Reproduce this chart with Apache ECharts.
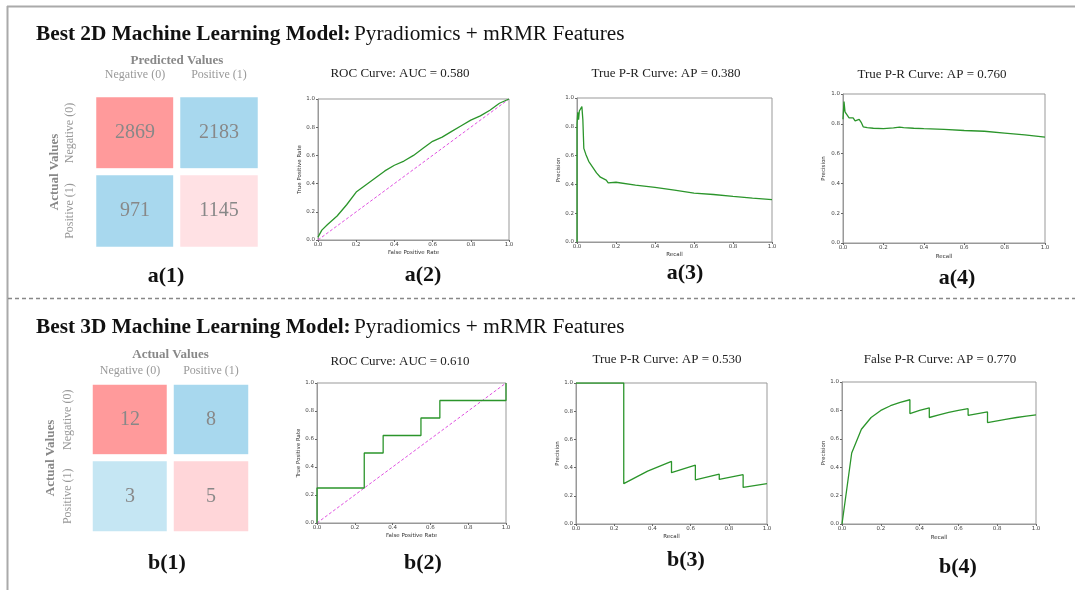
<!doctype html>
<html>
<head>
<meta charset="utf-8">
<title>Best Machine Learning Models</title>
<script src="https://cdn.jsdelivr.net/npm/echarts@6/dist/echarts.min.js"></script>
<style>
  html, body { margin: 0; padding: 0; background: #fff; }
  #main { width: 1075px; height: 590px; }
</style>
</head>
<body>
<div id="main"></div>
<script>
// ---- data ----
var cmLabels = ['Negative (0)', 'Positive (1)'];
var cmA = [[2869, 2183], [971, 1145]];   // rows = actual, cols = predicted
var cmB = [[12, 8], [3, 5]];
var cmColorsA = [['#ff9a9b', '#a8d8ee'], ['#a8d8ee', '#ffe1e4']];
var cmColorsB = [['#ff9a9b', '#a8d8ee'], ['#c5e6f3', '#ffd6d9']];

// a(2) ROC
var rocA_fpr = [0, 0.02, 0.05, 0.1, 0.15, 0.2, 0.25, 0.3, 0.35, 0.4, 0.45, 0.5, 0.55, 0.6, 0.65, 0.7, 0.75, 0.8, 0.85, 0.9, 0.95, 1.0];
var rocA_tpr = [0.02, 0.07, 0.11, 0.17, 0.25, 0.34, 0.39, 0.44, 0.49, 0.53, 0.56, 0.6, 0.65, 0.7, 0.73, 0.77, 0.81, 0.85, 0.88, 0.92, 0.97, 1.0];
// a(3) true P-R
var prA_rec = [0, 0, 0.004, 0.008, 0.012, 0.02, 0.025, 0.03, 0.035, 0.045, 0.06, 0.08, 0.1, 0.12, 0.15, 0.16, 0.2, 0.3, 0.4, 0.5, 0.6, 0.7, 0.8, 0.9, 1.0];
var prA_pre = [0, 0.82, 0.9, 0.85, 0.91, 0.92, 0.94, 0.85, 0.65, 0.61, 0.56, 0.52, 0.48, 0.45, 0.43, 0.41, 0.415, 0.395, 0.38, 0.36, 0.34, 0.33, 0.317, 0.305, 0.294];
// a(4) P-R
var prA2_rec = [0, 0.005, 0.01, 0.02, 0.03, 0.05, 0.06, 0.08, 0.09, 0.1, 0.12, 0.15, 0.2, 0.25, 0.28, 0.3, 0.35, 0.4, 0.5, 0.6, 0.7, 0.8, 0.9, 1.0];
var prA2_pre = [0.83, 0.95, 0.88, 0.86, 0.84, 0.84, 0.82, 0.83, 0.81, 0.78, 0.775, 0.77, 0.768, 0.772, 0.778, 0.775, 0.77, 0.767, 0.762, 0.755, 0.75, 0.738, 0.725, 0.71];
// b(2) ROC
var rocB_fpr = [0, 0, 0.25, 0.25, 0.35, 0.35, 0.55, 0.55, 0.65, 0.65, 1.0, 1.0];
var rocB_tpr = [0, 0.25, 0.25, 0.5, 0.5, 0.625, 0.625, 0.75, 0.75, 0.875, 0.875, 1.0];
// b(3) true P-R
var prB_rec = [0, 0.125, 0.25, 0.25, 0.375, 0.5, 0.5, 0.625, 0.625, 0.75, 0.75, 0.875, 0.875, 1.0];
var prB_pre = [1.0, 1.0, 1.0, 0.286, 0.375, 0.444, 0.364, 0.417, 0.3125, 0.353, 0.316, 0.35, 0.259, 0.286];
// b(4) false P-R
var prB2_rec = [0, 0.05, 0.1, 0.15, 0.2, 0.25, 0.3, 0.35, 0.35, 0.4, 0.45, 0.45, 0.5, 0.55, 0.6, 0.65, 0.65, 0.7, 0.75, 0.75, 0.8, 0.85, 0.9, 0.95, 1.0];
var prB2_pre = [0, 0.5, 0.667, 0.75, 0.8, 0.833, 0.857, 0.875, 0.778, 0.8, 0.818, 0.75, 0.769, 0.786, 0.8, 0.8125, 0.765, 0.778, 0.789, 0.714, 0.727, 0.739, 0.75, 0.76, 0.769];
var chance = [0, 1];

var serif = 'Liberation Serif';
var sans = 'DejaVu Sans';
var green = '#2b952b';

function zip(a, b) { return a.map(function (v, i) { return [v, b[i]]; }); }
function cells(m, colors) {
  var out = [];
  for (var r = 0; r < 2; r++) for (var c = 0; c < 2; c++)
    out.push({ value: [c, r, m[r][c]], itemStyle: { color: colors[r][c] } });
  return out;
}

// grids: 0 a1, 1 a2, 2 a3, 3 a4, 4 b1, 5 b2, 6 b3, 7 b4
var grids = [
  { left: 93, top: 94, width: 168, height: 156 },
  { left: 318, top: 99, width: 191, height: 141 },
  { left: 577, top: 98, width: 195, height: 144 },
  { left: 843, top: 94, width: 202, height: 149 },
  { left: 89.5, top: 381.5, width: 162, height: 153 },
  { left: 317, top: 383, width: 189, height: 140 },
  { left: 576, top: 383, width: 191, height: 141 },
  { left: 842, top: 382, width: 194, height: 142 }
];
grids.forEach(function (g, i) {
  g.containLabel = false;
  if (i !== 0 && i !== 4) { g.show = true; g.borderColor = '#999'; g.borderWidth = 1; }
});

function cmX(gi, name, gap, margin) {
  return {
    gridIndex: gi, type: 'category', position: 'top', data: cmLabels,
    axisLine: { show: false }, axisTick: { show: false }, splitLine: { show: false },
    axisLabel: { color: '#999', fontFamily: serif, fontSize: 12, margin: margin, interval: 0 },
    name: name, nameLocation: 'middle', nameGap: gap,
    nameTextStyle: { color: '#888', fontFamily: serif, fontSize: 13, fontWeight: 'bold' }
  };
}
function cmY(gi, margin, gap) {
  return {
    gridIndex: gi, type: 'category', inverse: true, data: cmLabels,
    axisLine: { show: false }, axisTick: { show: false }, splitLine: { show: false },
    axisLabel: { color: '#999', fontFamily: serif, fontSize: 12, rotate: 90, margin: margin,
      interval: 0, hideOverlap: false },
    name: 'Actual Values', nameLocation: 'middle', nameGap: gap, nameRotate: 90,
    nameTextStyle: { color: '#888', fontFamily: serif, fontSize: 13, fontWeight: 'bold' }
  };
}
function valAxis(gi, name, gap, isX) {
  return {
    gridIndex: gi, type: 'value', min: 0, max: 1, interval: 0.2,
    axisLine: { show: true, lineStyle: { color: '#999', width: 1 } },
    axisTick: { show: true, length: 2, lineStyle: { color: '#666' } },
    splitLine: { show: false },
    axisLabel: { color: '#444', fontFamily: sans, fontSize: 5.5, margin: isX ? 2 : 3,
      formatter: function (v) { return v.toFixed(1); } },
    name: name, nameLocation: 'middle', nameGap: gap,
    nameTextStyle: { color: '#333', fontFamily: sans, fontSize: 5.5 }
  };
}

var xAxes = [
  cmX(0, 'Predicted Values', 27, 13),
  valAxis(1, 'False Positive Rate', 10, true),
  valAxis(2, 'Recall', 10, true),
  valAxis(3, 'Recall', 11, true),
  cmX(4, 'Actual Values', 20, 5),
  valAxis(5, 'False Positive Rate', 10, true),
  valAxis(6, 'Recall', 10, true),
  valAxis(7, 'Recall', 11, true)
];
var yAxes = [
  cmY(0, 17, 32),
  valAxis(1, 'True Positive Rate', 14, false),
  valAxis(2, 'Precision', 14, false),
  valAxis(3, 'Precision', 16, false),
  cmY(4, 16, 32),
  valAxis(5, 'True Positive Rate', 13, false),
  valAxis(6, 'Precision', 13, false),
  valAxis(7, 'Precision', 14, false)
];

function heat(gi, m, colors) {
  return {
    type: 'heatmap', xAxisIndex: gi, yAxisIndex: gi, data: cells(m, colors),
    itemStyle: { borderColor: '#fff', borderWidth: 7 },
    label: { show: true, color: '#888', fontFamily: serif, fontSize: 20,
      formatter: function (p) { return p.value[2]; } },
    emphasis: { disabled: true }
  };
}
function curve(gi, xs, ys) {
  return {
    type: 'line', xAxisIndex: gi, yAxisIndex: gi, data: zip(xs, ys),
    showSymbol: false, symbol: 'none', lineStyle: { color: green, width: 1.3 },
    animation: false, z: 3
  };
}
function diag(gi) {
  return {
    type: 'line', xAxisIndex: gi, yAxisIndex: gi, data: zip(chance, chance),
    showSymbol: false, symbol: 'none',
    lineStyle: { color: '#e050e0', width: 1, type: [3, 2] }, animation: false, z: 2
  };
}

function txt(x, y, s, size, weight, color, family) {
  return { type: 'text', x: x, y: y, style: { text: s, fontSize: size, fontWeight: weight || 'normal',
    fill: color || '#111', fontFamily: family || serif, align: 'center', verticalAlign: 'middle' } };
}
function heading(y, dim) {
  return { type: 'text', x: 36, y: y, style: {
    text: '{b|Best ' + dim + ' Machine Learning Model:} {n|Pyradiomics + mRMR Features}',
    verticalAlign: 'middle', align: 'left',
    rich: {
      b: { fontFamily: serif, fontSize: 21.3, fontWeight: 'bold', fill: '#111', color: '#111' },
      n: { fontFamily: serif, fontSize: 21.3, fill: '#111', color: '#111' }
    } } };
}

var graphics = [
  { type: 'line', shape: { x1: 7, y1: 6.5, x2: 1075, y2: 6.5 }, style: { stroke: '#aaa', lineWidth: 2 } },
  { type: 'line', shape: { x1: 7.5, y1: 6, x2: 7.5, y2: 590 }, style: { stroke: '#aaa', lineWidth: 2 } },
  { type: 'line', shape: { x1: 8, y1: 298.5, x2: 1075, y2: 298.5 }, style: { stroke: '#888', lineWidth: 1.5, lineDash: [4, 3] } },
  { type: 'rect', shape: { x: 91, y: 92, width: 172, height: 160 }, style: { fill: 'none', stroke: '#aaa', lineWidth: 2 } },
  { type: 'rect', shape: { x: 88, y: 381, width: 166, height: 154 }, style: { fill: 'none', stroke: '#aaa', lineWidth: 2 } },
  heading(34, '2D'),
  heading(327, '3D'),
  txt(400, 74, 'ROC Curve: AUC = 0.580', 13, 'normal', '#222'),
  txt(666, 74, 'True P-R Curve: AP = 0.380', 13, 'normal', '#222'),
  txt(932, 75, 'True P-R Curve: AP = 0.760', 13, 'normal', '#222'),
  txt(400, 362, 'ROC Curve: AUC = 0.610', 13, 'normal', '#222'),
  txt(667, 360, 'True P-R Curve: AP = 0.530', 13, 'normal', '#222'),
  txt(940, 360, 'False P-R Curve: AP = 0.770', 13, 'normal', '#222'),
  txt(166, 276, 'a(1)', 22, 'bold'),
  txt(423, 275, 'a(2)', 22, 'bold'),
  txt(685, 273, 'a(3)', 22, 'bold'),
  txt(957, 278, 'a(4)', 22, 'bold'),
  txt(167, 563, 'b(1)', 22, 'bold'),
  txt(423, 563, 'b(2)', 22, 'bold'),
  txt(686, 560, 'b(3)', 22, 'bold'),
  txt(958, 567, 'b(4)', 22, 'bold')
];

var chart = echarts.init(document.getElementById('main'));
chart.setOption({
  backgroundColor: '#fff',
  animation: false,
  grid: grids,
  xAxis: xAxes,
  yAxis: yAxes,
  series: [
    heat(0, cmA, cmColorsA),
    diag(1), curve(1, rocA_fpr, rocA_tpr),
    curve(2, prA_rec, prA_pre),
    curve(3, prA2_rec, prA2_pre),
    heat(4, cmB, cmColorsB),
    diag(5), curve(5, rocB_fpr, rocB_tpr),
    curve(6, prB_rec, prB_pre),
    curve(7, prB2_rec, prB2_pre)
  ],
  graphic: graphics
});
</script>
</body>
</html>
